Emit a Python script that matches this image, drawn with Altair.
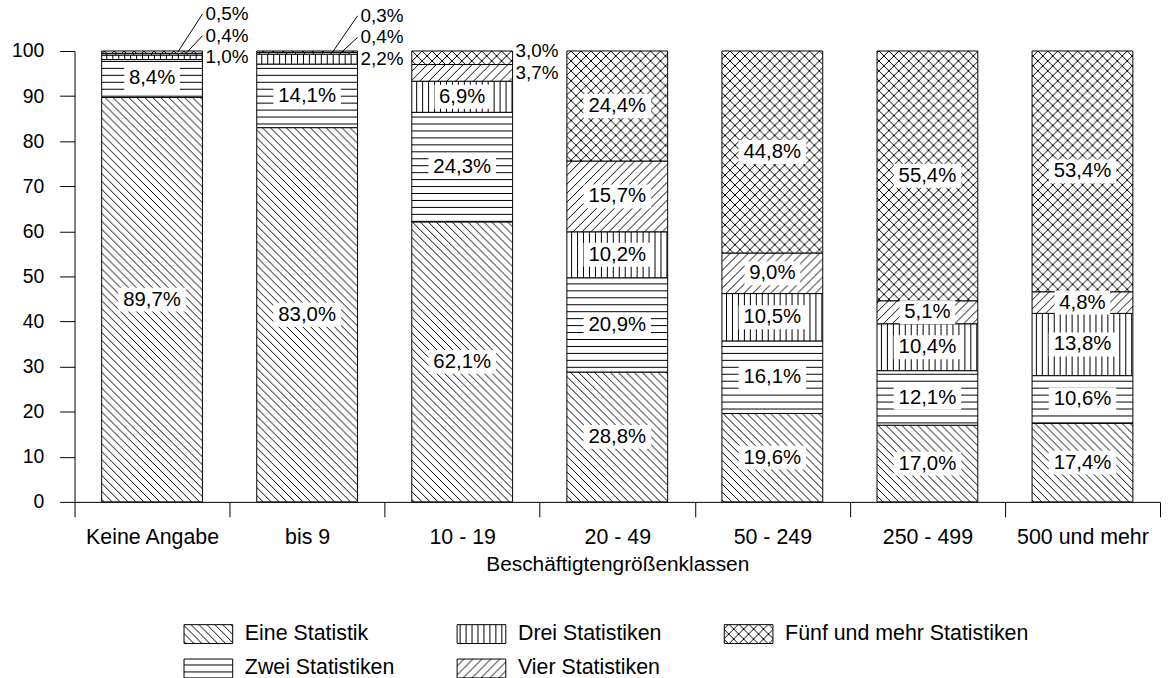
import altair as alt
import pandas as pd
import jinja2

# ---------------- data ----------------
categories = ["Keine Angabe", "bis 9", "10 - 19", "20 - 49", "50 - 249", "250 - 499", "500 und mehr"]
series = ["Eine Statistik", "Zwei Statistiken", "Drei Statistiken", "Vier Statistiken", "Fünf und mehr Statistiken"]
eine = [89.7, 83.0, 62.1, 28.8, 19.6, 17.0, 17.4]
zwei = [8.4, 14.1, 24.3, 20.9, 16.1, 12.1, 10.6]
drei = [1.0, 2.2, 6.9, 10.2, 10.5, 10.4, 13.8]
vier = [0.4, 0.4, 3.7, 15.7, 9.0, 5.1, 4.8]
fuenf = [0.5, 0.3, 3.0, 24.4, 44.8, 55.4, 53.4]
values_by_series = [eine, zwei, drei, vier, fuenf]
y_ticks = list(range(0, 101, 10))
x_title = "Beschäftigtengrößenklassen"

# ---------------- style ----------------
FONT = "Liberation Sans"
FS_LAB = 20.5     # percentage labels inside bars
FS_OUT = 19       # percentage labels outside bars
FS_X = 21.5       # x axis labels / legend
FS_Y = 19.5       # y axis labels
FS_T = 21         # x title
BAR_FRAC = 0.65
OUTSIDE_MAX = 4.0      # segments below this value get their label outside the bar
GAP = 4.8              # minimum vertical distance (in % units) between outside labels
LEADER_MIN = 2.0       # draw a leader line if label moved more than this
leader_start = {"Vier Statistiken": 0.83, "Fünf und mehr Statistiken": 0.755}
pattern_ref = {
    "Eine Statistik": "url(#pEine)",
    "Zwei Statistiken": "url(#pZwei)",
    "Drei Statistiken": "url(#pDrei)",
    "Vier Statistiken": "url(#pVier)",
    "Fünf und mehr Statistiken": "url(#pFuenf)",
}
legend_order = ["Eine Statistik", "Drei Statistiken", "Fünf und mehr Statistiken",
                "Zwei Statistiken", "Vier Statistiken"]
BOX4 = "M-0.56,-0.24H0.56V0.24H-0.56Z"
BOX5 = "M-0.68,-0.24H0.68V0.24H-0.68Z"
LEG_SYM = "M-2.58,-1H2.58V1H-2.58Z"

rows = []
for i, cat in enumerate(categories):
    base_v = 0.0
    prev_ly = None
    for k, s in enumerate(series):
        v = values_by_series[k][i]
        y0, y1 = base_v, base_v + v
        base_v = y1
        mid = (y0 + y1) / 2
        lab = f"{v:.1f}".replace(".", ",") + "%"
        outside = v < OUTSIDE_MAX
        ly = mid
        if outside:
            if prev_ly is not None:
                ly = max(mid, prev_ly + GAP)
            prev_ly = ly
        rows.append(dict(cat=cat, idx=i, series=s, v=v, y0=y0, y1=y1, mid=mid,
                         label=lab, nch=str(len(lab)), outside=outside, ly=ly,
                         leader=bool(outside and (ly - mid) > LEADER_MIN)))
df = pd.DataFrame(rows)
pad = (1 - BAR_FRAC) / 2
df["xr"] = df["idx"] + pad + BAR_FRAC
df["xl"] = df["idx"] + pad + BAR_FRAC * df["series"].map(leader_start).fillna(0.0)

# ---------------- encodings ----------------
xband = alt.Scale(domain=categories, paddingInner=0, paddingOuter=0)
xaxis = alt.Axis(tickBand="extent", tickSize=15, labelAngle=0, labelPadding=10,
                 labelFontSize=FS_X, titleFontSize=FS_T,
                 titlePadding=6, title=x_title, grid=False)
yscale = alt.Scale(domain=[0, 100], nice=False)
yaxis = alt.Axis(values=y_ticks, tickSize=15, labelPadding=16, labelFontSize=FS_Y,
                 grid=False, title=None)
xq = alt.Scale(domain=[0, len(categories)], nice=False, zero=False)


def XB():
    return alt.X("cat:N", scale=xband, sort=categories, axis=xaxis)


def YQ(field):
    return alt.Y(field, type="quantitative", scale=yscale, axis=yaxis)


legend = alt.Legend(title=None, orient="none", legendX=124, legendY=576,
                    direction="horizontal", columns=3, symbolType=LEG_SYM, symbolSize=361,
                    symbolStrokeColor="black", symbolStrokeWidth=1, symbolOpacity=1,
                    labelFont=FONT, labelFontSize=FS_X, labelColor="black", labelOffset=26,
                    labelLimit=400, columnPadding=60, rowPadding=11, padding=0)

base = alt.Chart(df)

bars = base.mark_bar(width={"band": BAR_FRAC}, stroke="black", strokeWidth=1, opacity=1).encode(
    x=XB(),
    y=YQ("y0"),
    y2="y1:Q",
    color=alt.Color("series:N",
                    scale=alt.Scale(domain=legend_order, range=[pattern_ref[s] for s in legend_order]),
                    legend=legend),
)

inside = base.transform_filter("!datum.outside")
boxes = inside.mark_point(filled=True, fill="white", opacity=1, strokeWidth=0).encode(
    x=XB(),
    y=YQ("mid"),
    shape=alt.Shape("nch:N", scale=alt.Scale(domain=["4", "5"], range=[BOX4, BOX5]), legend=None),
    size=alt.value(10000),
)
itext = inside.mark_text(font=FONT, fontSize=FS_LAB, color="black", align="center", baseline="middle").encode(
    x=XB(),
    y=YQ("mid"),
    text="label:N",
)

otext = base.transform_filter("datum.outside").mark_text(
    font=FONT, fontSize=FS_OUT, color="black", align="left", baseline="middle", dx=3
).encode(
    x=alt.X("xr:Q", scale=xq, axis=None),
    y=YQ("ly"),
    text="label:N",
)
leaders = base.transform_filter("datum.leader").mark_rule(color="black", strokeWidth=1).encode(
    x=alt.X("xl:Q", scale=xq, axis=None),
    x2="xr:Q",
    y=YQ("mid"),
    y2="ly:Q",
)

chart = (
    alt.layer(alt.layer(bars, boxes, itext), otext, leaders)
    .resolve_scale(x="independent")
    .properties(width=1093, height=454,
                autosize=alt.AutoSizeParams(type="none"),
                padding={"left": 67, "top": 49, "right": 1, "bottom": 175})
    .configure_axis(labelFont=FONT, labelColor="black",
                    titleFont=FONT, titleFontWeight="normal", titleColor="black",
                    domainColor="black", tickColor="black", domainWidth=1, tickWidth=1)
    .configure_view(stroke="transparent")
)

PATTERN_TEMPLATE = jinja2.Template("""<!DOCTYPE html>
<html>
<head>
  <style>
    html, body { overflow: hidden; }
    body { margin: 0 8px 8px 8px; }
    #{{ output_div }}.vega-embed { width: 100%; display: flex; }
    #{{ output_div }}.vega-embed details,
    #{{ output_div }}.vega-embed details summary { position: relative; }
  </style>
  <script type="text/javascript" src="{{ base_url }}/vega@{{ vega_version }}"></script>
  <script type="text/javascript" src="{{ base_url }}/vega-lite@{{ vegalite_version }}"></script>
  <script type="text/javascript" src="{{ base_url }}/vega-embed@{{ vegaembed_version }}"></script>
</head>
<body>
  <svg width="0" height="0" style="position:absolute">
    <defs>
      <pattern id="pEine" patternUnits="userSpaceOnUse" width="8" height="8">
        <rect width="8" height="8" fill="#fff"/>
        <path d="M-1,-1L9,9M-1,7L1,9M7,-1L9,1" stroke="#000" stroke-width="1" fill="none"/>
      </pattern>
      <pattern id="pZwei" patternUnits="userSpaceOnUse" width="8" height="7">
        <rect width="8" height="7" fill="#fff"/>
        <path d="M0,3.5H8" stroke="#000" stroke-width="1" fill="none"/>
      </pattern>
      <pattern id="pDrei" patternUnits="userSpaceOnUse" width="6" height="8">
        <rect width="6" height="8" fill="#fff"/>
        <path d="M2.5,0V8" stroke="#000" stroke-width="1" fill="none"/>
      </pattern>
      <pattern id="pVier" patternUnits="userSpaceOnUse" width="9" height="9">
        <rect width="9" height="9" fill="#fff"/>
        <path d="M-1,10L10,-1M-1,1L1,-1M8,10L10,8" stroke="#000" stroke-width="1" fill="none"/>
      </pattern>
      <pattern id="pFuenf" patternUnits="userSpaceOnUse" width="10" height="10">
        <rect width="10" height="10" fill="#fff"/>
        <path d="M-1,-1L11,11M-1,9L1,11M9,-1L11,1M-1,11L11,-1M-1,1L1,-1M9,11L11,9" stroke="#000" stroke-width="1" fill="none"/>
      </pattern>
    </defs>
  </svg>
  <div id="{{ output_div }}"></div>
  <script>
    (function(vegaEmbed) {
      var spec = {{ spec }};
      var embedOpt = {{ embed_options }};
      function showError(el, error){
          el.innerHTML = ('<div style="color:red;"><p>JavaScript Error: ' + error.message + '</p></div>');
          throw error;
      }
      const el = document.getElementById('{{ output_div }}');
      vegaEmbed("#{{ output_div }}", spec, embedOpt).catch(error => showError(el, error));
    })(vegaEmbed);
  </script>
</body>
</html>
""")

chart.save("out.html", embed_options={"renderer": "svg", "actions": False}, template=PATTERN_TEMPLATE)
